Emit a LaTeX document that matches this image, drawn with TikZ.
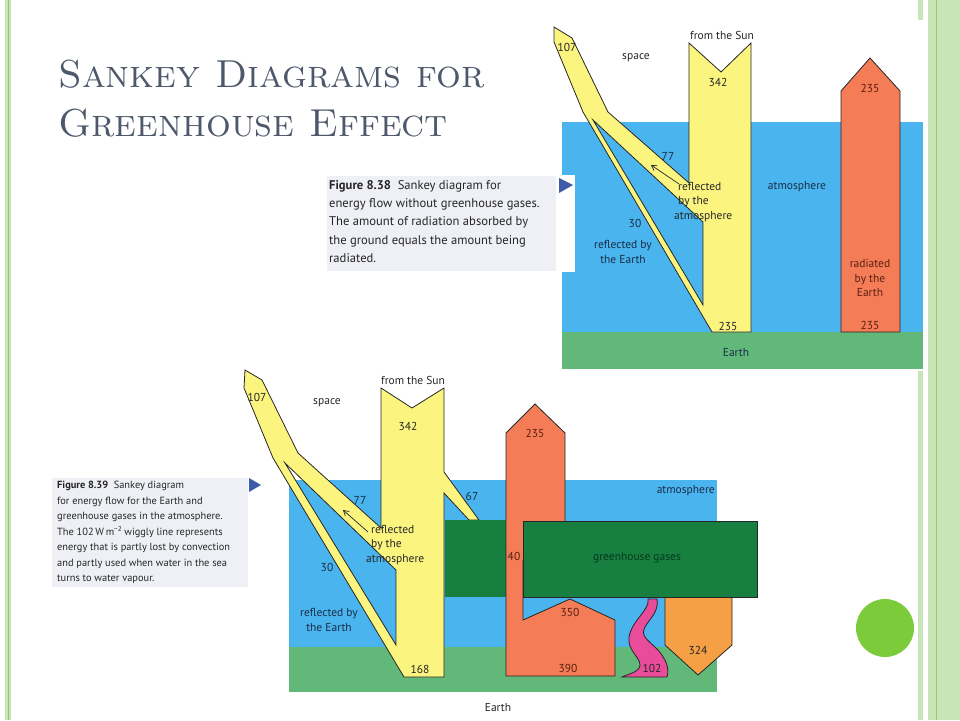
\documentclass[tikz,border=0pt]{standalone}
\usepackage{fontspec}
\newfontfamily\lab{PT Sans}
\usetikzlibrary{arrows.meta}
\definecolor{sky}{HTML}{4AB4EE}
\definecolor{earth}{HTML}{62B878}
\definecolor{sun}{HTML}{FBF580}
\definecolor{heat}{HTML}{F47C57}
\definecolor{amber}{HTML}{F6A045}
\definecolor{ghg}{HTML}{178040}
\definecolor{wig}{HTML}{E84C9A}
\definecolor{titlec}{HTML}{4E586B}
\definecolor{capbg}{HTML}{EEF0F6}
\definecolor{marker}{HTML}{3F5CA8}
\definecolor{border}{HTML}{C8E5B8}
\definecolor{borderdk}{HTML}{8FCB72}
\definecolor{dot}{HTML}{7CCB3A}
\definecolor{navy}{HTML}{1B2C48}
\definecolor{rust}{HTML}{5A2010}
\definecolor{ghgtxt}{HTML}{06381A}
\tikzset{
  flow/.style={draw=black!85, line width=0.8pt, line join=miter},
  lbl/.style={font=\lab\fontsize{11.5}{13}\selectfont, inner sep=0pt, text=black!85},
  bluelbl/.style={lbl, text=navy},
  rustlbl/.style={lbl, text=rust},
  capbox/.style={fill=capbg},
  mk/.style={fill=marker},
  arr/.style={draw=black!85, line width=0.7pt, -{Straight Barb[length=5pt,width=6pt]}},
}
\begin{document}
\begin{tikzpicture}[x=1pt,y=-1pt]
\useasboundingbox (0,0) rectangle (960,720);
\fill[white] (0,0) rectangle (960,720);
% slide borders
\fill[border] (5,0) rectangle (11,720);
\draw[borderdk, line width=0.5pt] (8,0) -- (8,720);
\fill[border] (918,0) rectangle (923,720);
\fill[border] (928,0) rectangle (960,720);
\draw[borderdk, line width=0.8pt] (936,0) -- (936,720);
% title
\node[anchor=base west, inner sep=0pt, text=titlec, font=\fontsize{39}{48}\selectfont] (t1) at (58,87) {\textsc{Sankey Diagrams for}};
\node[anchor=base west, inner sep=0pt, text=titlec, font=\fontsize{39}{48}\selectfont] (t2) at (58,136) {\textsc{Greenhouse Effect}};

% ===== top diagram =====
\fill[white] (545,20) rectangle (923,371);
\fill[sky] (562,122) rectangle (923,332);
\fill[earth] (562,332) rectangle (923,369);
\path[flow, fill=sun, even odd rule]
  (554,27) -- (572,38) -- (608,112) -- (689,183) -- (689,43) -- (721,72) -- (751,43)
  -- (751,332) -- (712,332) -- (583,112) -- (554,42) -- cycle
  (593,120) -- (703,222) -- (703,305) -- cycle;
\path[flow, fill=heat] (841,332) -- (841,91) -- (870,58) -- (900,91) -- (900,332) -- cycle;
\coordinate (a1s) at (679,184);
\coordinate (a1e) at (651,165);
\draw[arr] (a1s) -- (a1e);
\node[lbl] (n107a) at (567,47) {107};
\node[lbl] (nspace1) at (636,58) {space};
\node[lbl] (nsun1) at (722,35) {from the Sun};
\node[lbl] (n342a) at (718,82) {342};
\node[rustlbl] (n235a) at (870,88) {235};
\node[bluelbl] (n77a) at (668,156) {77};
\node[lbl, anchor=west, align=left, font=\lab\fontsize{11.5}{14.5}\selectfont] (nrefl1) at (674,202) {\hspace*{4pt}reflected\\\hspace*{4pt}by the\\atmosphere};
\node[bluelbl] (natm1) at (797,187) {atmosphere};
\node[bluelbl] (n30a) at (635,223) {30};
\node[bluelbl, align=center, font=\lab\fontsize{11.5}{14.5}\selectfont] (nreflE1) at (623,252) {reflected by\\the Earth};
\node[rustlbl, align=center, font=\lab\fontsize{11.5}{14.5}\selectfont] (nrad) at (870,278) {radiated\\by the\\Earth};
\node[lbl] (n235b) at (728,326) {235};
\node[rustlbl] (n235c) at (870,325) {235};
\node[bluelbl] (nearth1) at (736,353) {Earth};

% caption 8.38
\fill[white] (325,175) rectangle (575,272);
\fill[capbox] (327,176) rectangle (556,271);
\fill[mk] (559,178) -- (573,185) -- (559,193) -- cycle;
\node[anchor=north west, align=left, inner sep=0pt, text=black!85, font=\lab\fontsize{12.6}{18.3}\selectfont] (cap1) at (329,180)
  {\textbf{Figure 8.38}\ \ Sankey diagram for\\energy flow without greenhouse gases.\\The amount of radiation absorbed by\\the ground equals the amount being\\radiated.};

% ===== bottom diagram =====
\fill[sky] (289,480) rectangle (717,647);
\fill[earth] (289,647) rectangle (717,692);
\path[flow, fill=sun, even odd rule]
  (245,370) -- (262,380) -- (298,453) -- (381,528) -- (381,388) -- (412,408) -- (444,388)
  -- (444,472) -- (479,520) -- (469,520) -- (444,493) -- (444,677) -- (404,677)
  -- (273,458) -- (244,388) -- cycle
  (285,463) -- (396,570) -- (396,645) -- cycle;
\fill[ghg] (445,520) rectangle (530,597);
\path[flow, fill=heat] (506,676) -- (506,433) -- (535,404) -- (565,433) -- (565,560) -- (523,560)
  -- (523,620) -- (570,599) -- (615,620) -- (615,676) -- cycle;
\path[flow, fill=wig] (648,599) .. controls (650,610) and (632,620) .. (629,637)
  .. controls (627,650) and (640,657) .. (640,665)
  .. controls (640,672) and (628,674) .. (622,677) -- (667,677)
  .. controls (670,668) and (665,658) .. (658,650)
  .. controls (648,640) and (640,636) .. (645,627)
  .. controls (650,618) and (659,612) .. (657,599) -- cycle;
\path[flow, fill=amber] (665,590) -- (665,645) -- (698,675) -- (732,645) -- (732,590) -- cycle;
\path[flow, fill=ghg, line width=0.6pt] (523,521) rectangle (757,597);
\coordinate (a2s) at (368,532);
\coordinate (a2e) at (343,510);
\draw[arr] (a2s) -- (a2e);
\node[lbl] (n107b) at (257,397) {107};
\node[lbl] (nspace2) at (327,403) {space};
\node[lbl] (nsun2) at (413,380) {from the Sun};
\node[lbl] (n342b) at (408,426) {342};
\node[bluelbl] (n77b) at (360,500) {77};
\node[bluelbl] (n67) at (472,496) {67};
\node[lbl, anchor=west, align=left, font=\lab\fontsize{11.5}{14.5}\selectfont] (nrefl2) at (366,545) {\hspace*{5pt}reflected\\\hspace*{5pt}by the\\atmosphere};
\node[bluelbl] (n30b) at (327,567) {30};
\node[bluelbl, align=center, font=\lab\fontsize{11.5}{14.5}\selectfont] (nreflE2) at (329,620) {reflected by\\the Earth};
\node[lbl] (n168) at (420,669) {168};
\node[rustlbl] (n235d) at (535,433) {235};
\node[rustlbl] (n40) at (514,556) {40};
\node[bluelbl, anchor=east] (natm2) at (715,491) {atmosphere};
\node[lbl, text=ghgtxt] (nghg) at (637,558) {greenhouse gases};
\node[rustlbl] (n350) at (570,612) {350};
\node[rustlbl] (n390) at (568,668) {390};
\node[lbl] (n102) at (652,668) {102};
\node[lbl] (n324) at (698,650) {324};
\node[lbl] (nearth2) at (498,708) {Earth};

% caption 8.39
\fill[capbox] (52,478) rectangle (248,587);
\fill[mk] (249,478) -- (261,485) -- (249,492) -- cycle;
\node[anchor=north west, align=left, inner sep=0pt, text=black!85, font=\lab\fontsize{10.4}{15.5}\selectfont] (cap2) at (57,481)
  {\textbf{Figure 8.39}\ \ Sankey diagram\\for energy flow for the Earth and\\greenhouse gases in the atmosphere.\\The 102\,W\,m{\fontsize{7}{7}\selectfont\raisebox{3.5pt}{−2}} wiggly line represents\\energy that is partly lost by convection\\and partly used when water in the sea\\turns to water vapour.};

% decorative dot
\fill[dot] (885,628) circle (29);
\end{tikzpicture}
\end{document}
